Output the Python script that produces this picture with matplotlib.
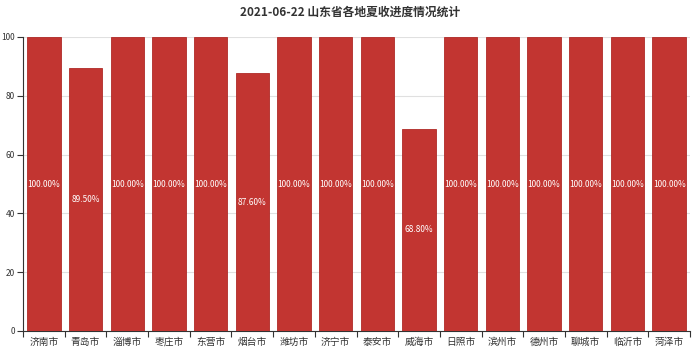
import numpy as np
import matplotlib
matplotlib.use('Agg')
import matplotlib.pyplot as plt

plt.rcParams['font.family'] = ['Noto Sans CJK SC', 'DejaVu Sans']

cities = ['济南市', '青岛市', '淄博市', '枣庄市', '东营市', '烟台市', '潍坊市', '济宁市',
          '泰安市', '威海市', '日照市', '滨州市', '德州市', '聊城市', '临沂市', '菏泽市']
progress = [100, 89.5, 100, 100, 100, 87.6, 100, 100,
            100, 68.8, 100, 100, 100, 100, 100, 100]
y_ticks = [0, 20, 40, 60, 80, 100]

fig = plt.figure(figsize=(7, 3.51), dpi=100)
ax = fig.add_axes([23 / 700, 1 - 331 / 351, (690 - 23) / 700, (331 - 37) / 351])

x = np.arange(len(cities))
bars = ax.bar(x, progress, width=0.8, color='#c23531', edgecolor='#b02a27',
              linewidth=0.6, zorder=3)
for xi, v in zip(x, progress):
    ax.text(xi, v / 2, f'{v:.2f}%', ha='center', va='center', color='white',
            fontsize=6, zorder=4)

ax.set_xlim(-0.5, len(cities) - 0.5)
ax.set_ylim(0, 100)
ax.set_yticks(y_ticks)
ax.set_xticks(x)
ax.set_xticklabels(cities)
ax.set_xticks(np.arange(len(cities) + 1) - 0.5, minor=True)
ax.tick_params(axis='x', which='major', length=0, labelsize=7, colors='#333333', pad=4)
ax.tick_params(axis='x', which='minor', length=4, width=0.8, color='#333333')
ax.tick_params(axis='y', length=4, width=0.8, color='#333333', labelsize=6,
               labelcolor='#333333', pad=2)
ax.grid(axis='y', color='#e0e0e0', linewidth=0.8, zorder=0)

for s in ['top', 'right']:
    ax.spines[s].set_visible(False)
for s in ['left', 'bottom']:
    ax.spines[s].set_color('#333333')
    ax.spines[s].set_linewidth(0.8)

fig.suptitle('2021-06-22 山东省各地夏收进度情况统计', x=0.5, y=0.985,
             fontsize=8.5, fontweight='bold', color='#333333')

fig.savefig('out.png', dpi=100)
